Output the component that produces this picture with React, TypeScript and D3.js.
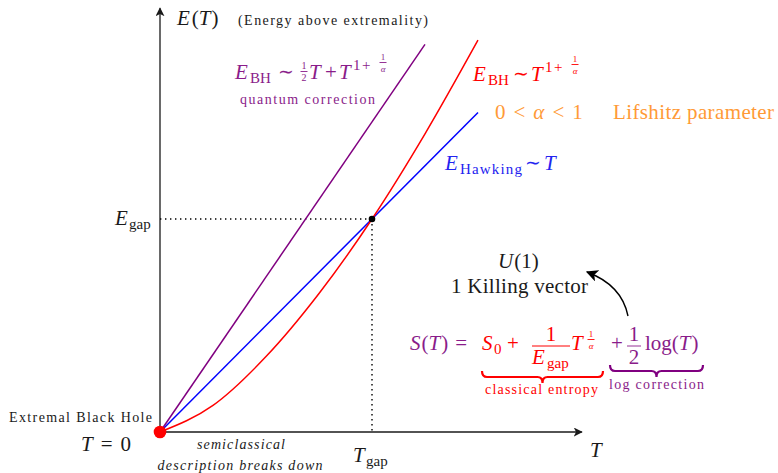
import React from "react";
import * as d3 from "d3";

// Temperature / energy samples in units of T_gap and E_gap
const tempGrid = [0, 0.25, 0.5, 0.75, 1, 1.25, 1.5];
const energyBH = [0, 0.125, 0.354, 0.65, 1, 1.4, 1.84];
const hawkingT = [0, 1.5];
const hawkingE = [0, 1.5];
const quantumT = [0, 1.25];
const quantumE = [0, 1.82];
const gapPoint = { T: 1, E: 1 };
const axisMax = 1.99;

const W = 778;
const H = 473;
const FONT = "Liberation Serif";

const PURPLE_LINE = "#800080";
const PURPLE_TXT = "#8a1c8a";
const RED = "#ff0000";
const BLUE = "#0000ff";
const BLUE_TXT = "#2323f0";
const ORANGE = "#ff9a36";
const INK = "#1a1a1a";

type P = {
  x: number;
  y: number;
  s?: number;
  it?: boolean;
  fill?: string;
  anchor?: "start" | "middle" | "end";
  len?: number;
  children: React.ReactNode;
};

function T({ x, y, s = 21, it = false, fill = INK, anchor = "start", len, children }: P) {
  return (
    <text
      x={x}
      y={y}
      fontSize={s}
      fontStyle={it ? "italic" : "normal"}
      fill={fill}
      textAnchor={anchor}
      fontFamily={FONT}
      {...(len ? { textLength: len, lengthAdjust: "spacing" } : {})}
    >
      {children}
    </text>
  );
}

// Stacked fraction: numerator, bar, denominator centred on cx
function Frac({ cx, num, den, yNum, yLine, yDen, w, s, fill, denIt = false }: any) {
  return (
    <g>
      <T x={cx} y={yNum} s={s} fill={fill} anchor="middle">{num}</T>
      <line x1={cx - w / 2} x2={cx + w / 2} y1={yLine} y2={yLine} stroke={fill} strokeWidth={0.9} />
      <T x={cx} y={yDen} s={s} fill={fill} anchor="middle" it={denIt}>{den}</T>
    </g>
  );
}

function brace(x0: number, x1: number, yTop: number, depth: number) {
  const xm = (x0 + x1) / 2;
  const ym = yTop + depth * 0.5;
  const yb = yTop + depth;
  const r = 5;
  return `M${x0},${yTop} Q${x0},${ym} ${x0 + r},${ym} L${xm - r},${ym} Q${xm},${ym} ${xm},${yb} Q${xm},${ym} ${xm + r},${ym} L${x1 - r},${ym} Q${x1},${ym} ${x1},${yTop}`;
}

export default function App() {
  const x = d3.scaleLinear().domain([0, 1]).range([160, 372]);
  const y = d3.scaleLinear().domain([0, 1]).range([432, 219]);

  const line = d3
    .line<[number, number]>()
    .x((d) => x(d[0]))
    .y((d) => y(d[1]));
  const smooth = d3
    .line<[number, number]>()
    .x((d) => x(d[0]))
    .y((d) => y(d[1]))
    .curve(d3.curveMonotoneX);

  const bhPts = tempGrid.map((t, i) => [t, energyBH[i]] as [number, number]);
  const hawkPts = hawkingT.map((t, i) => [t, hawkingE[i]] as [number, number]);
  const quantPts = quantumT.map((t, i) => [t, quantumE[i]] as [number, number]);

  const gx = x(gapPoint.T);
  const gy = y(gapPoint.E);

  return (
    <svg
      width={W}
      height={H}
      viewBox={`0 0 ${W} ${H}`}
      style={{ position: "absolute", left: 0, top: 0, background: "#fff" }}
    >
      <defs>
        <marker id="stealth" viewBox="0 0 10 10" refX="9" refY="5" markerWidth="9" markerHeight="9" markerUnits="userSpaceOnUse" orient="auto">
          <path d="M0,0 L10,5 L0,10 L2.5,5 Z" fill={INK} />
        </marker>
        <marker id="stealthBig" viewBox="0 0 10 10" refX="9" refY="5" markerWidth="12" markerHeight="12" markerUnits="userSpaceOnUse" orient="auto">
          <path d="M0,0 L10,5 L0,10 L2.5,5 Z" fill="#000" />
        </marker>
      </defs>
      <rect width={W} height={H} fill="#fff" />

      {/* axes */}
      <line x1={x(0)} y1={y(0)} x2={x(axisMax)} y2={y(0)} stroke={INK} strokeWidth={1.3} markerEnd="url(#stealth)" />
      <line x1={x(0)} y1={y(0)} x2={x(0)} y2={y(axisMax)} stroke={INK} strokeWidth={1.3} markerEnd="url(#stealth)" />

      {/* gap guides */}
      <line x1={x(0)} y1={gy} x2={gx} y2={gy} stroke="#000" strokeWidth={1.4} strokeDasharray="1.4 3.6" />
      <line x1={gx} y1={gy} x2={gx} y2={y(0)} stroke="#000" strokeWidth={1.4} strokeDasharray="1.4 3.6" />

      {/* curves */}
      <path d={line(hawkPts) || ""} fill="none" stroke={BLUE} strokeWidth={1.5} />
      <path d={smooth(bhPts) || ""} fill="none" stroke={RED} strokeWidth={1.5} />
      <path d={line(quantPts) || ""} fill="none" stroke={PURPLE_LINE} strokeWidth={1.5} />

      <circle cx={gx} cy={gy} r={3.3} fill="#000" />
      <circle cx={x(0)} cy={y(0)} r={6.3} fill={RED} />

      {/* axis labels */}
      <text x={177} y={25} fontSize={21} fontFamily={FONT} fill={INK}>
        <tspan fontStyle="italic">E</tspan>
        <tspan dx={2}>(</tspan>
        <tspan fontStyle="italic">T</tspan>
        <tspan dx={1}>)</tspan>
      </text>
      <T x={238} y={25} s={14} len={190}>(Energy above extremality)</T>
      <T x={590} y={457} it>T</T>

      <T x={115} y={225} it>E</T>
      <T x={129} y={229} s={15}>gap</T>
      <T x={353} y={462} it>T</T>
      <T x={366} y={466} s={15}>gap</T>

      <T x={9} y={422} s={14} len={143}>Extremal Black Hole</T>
      <text x={81} y={451} fontSize={21} fontFamily={FONT} fill={INK}>
        <tspan fontStyle="italic">T</tspan>
        <tspan dx={8}>=</tspan>
        <tspan dx={8}>0</tspan>
      </text>
      <T x={241} y={449} s={14} it anchor="middle" len={88}>semiclassical</T>
      <T x={240} y={470} s={14} it anchor="middle" len={165}>description breaks down</T>

      {/* quantum-corrected energy */}
      <T x={235} y={79} it fill={PURPLE_TXT}>E</T>
      <T x={250} y={83} s={15} fill={PURPLE_TXT}>BH</T>
      <T x={286} y={78} s={19} anchor="middle" fill={PURPLE_TXT}>∼</T>
      <Frac cx={304} num="1" den="2" yNum={69} yLine={71.5} yDen={81} w={7} s={10} fill={PURPLE_TXT} />
      <T x={309} y={79} it fill={PURPLE_TXT}>T</T>
      <T x={325} y={79} fill={PURPLE_TXT}>+</T>
      <T x={339} y={79} it fill={PURPLE_TXT}>T</T>
      <T x={353} y={70} s={15} fill={PURPLE_TXT}>1</T>
      <T x={362} y={70} s={15} fill={PURPLE_TXT}>+</T>
      <Frac cx={383} num="1" den="α" yNum={60} yLine={62.5} yDen={72} w={7} s={9} fill={PURPLE_TXT} denIt />
      <T x={240} y={104} s={14} fill={PURPLE_TXT} len={135}>quantum correction</T>

      {/* classical energy */}
      <T x={473} y={81} it fill={RED}>E</T>
      <T x={488} y={85} s={15} fill={RED}>BH</T>
      <T x={521} y={80} s={19} anchor="middle" fill={RED}>∼</T>
      <T x={531} y={81} it fill={RED}>T</T>
      <T x={545} y={72} s={15} fill={RED}>1</T>
      <T x={554} y={72} s={15} fill={RED}>+</T>
      <Frac cx={575} num="1" den="α" yNum={62} yLine={64.5} yDen={74} w={7} s={9} fill={RED} denIt />

      {/* Lifshitz parameter */}
      <text x={495} y={119} fontSize={21} fontFamily={FONT} fill={ORANGE}>
        0<tspan dx={8}>&lt;</tspan>
        <tspan dx={8} fontStyle="italic">α</tspan>
        <tspan dx={8}>&lt;</tspan>
        <tspan dx={8}>1</tspan>
      </text>
      <T x={613} y={119} fill={ORANGE} len={161}>Lifshitz parameter</T>

      {/* Hawking energy */}
      <T x={445} y={170} it fill={BLUE_TXT}>E</T>
      <T x={460} y={174} s={15} fill={BLUE_TXT} len={62}>Hawking</T>
      <T x={533} y={169} s={19} anchor="middle" fill={BLUE_TXT}>∼</T>
      <T x={544} y={170} it fill={BLUE_TXT}>T</T>

      {/* symmetry note */}
      <text x={498} y={268} fontSize={21} fontFamily={FONT} fill={INK}>
        <tspan fontStyle="italic">U</tspan>
        <tspan dx={1}>(1)</tspan>
      </text>
      <T x={451} y={293} len={137}>1 Killing vector</T>
      <path d="M628,316 C624,296 611,281 587,272" fill="none" stroke="#000" strokeWidth={1.4} markerEnd="url(#stealthBig)" />

      {/* entropy formula */}
      <text x={410} y={350} fontSize={21} fontFamily={FONT} fill={PURPLE_TXT}>
        <tspan fontStyle="italic">S</tspan>
        <tspan dx={1}>(</tspan>
        <tspan fontStyle="italic">T</tspan>
        <tspan dx={1}>)</tspan>
        <tspan dx={7}>=</tspan>
      </text>
      <T x={482} y={350} it fill={RED}>S</T>
      <T x={494} y={354} s={15} fill={RED}>0</T>
      <T x={507} y={350} fill={RED}>+</T>
      <T x={551} y={341} anchor="middle" fill={RED}>1</T>
      <line x1={532} x2={570} y1={346} y2={346} stroke={RED} strokeWidth={1} />
      <T x={532} y={364} it fill={RED}>E</T>
      <T x={547} y={368} s={15} fill={RED}>gap</T>
      <T x={571} y={350} it fill={RED}>T</T>
      <Frac cx={591} num="1" den="α" yNum={337} yLine={339.5} yDen={349} w={7} s={9} fill={RED} denIt />

      <T x={611} y={350} fill={PURPLE_TXT}>+</T>
      <Frac cx={634} num="1" den="2" yNum={341} yLine={346} yDen={364} w={14} s={21} fill={PURPLE_TXT} />
      <text x={645} y={350} fontSize={21} fontFamily={FONT} fill={PURPLE_TXT}>
        log(<tspan fontStyle="italic">T</tspan>
        <tspan dx={1}>)</tspan>
      </text>

      {/* braces */}
      <path d={brace(482, 603, 371, 12)} fill="none" stroke={RED} strokeWidth={2.2} />
      <T x={485} y={394} s={14} fill={RED} len={113}>classical entropy</T>
      <path d={brace(610, 703, 365, 12)} fill="none" stroke={PURPLE_LINE} strokeWidth={2.2} />
      <T x={609} y={389} s={14} fill={PURPLE_TXT} len={95}>log correction</T>
    </svg>
  );
}
